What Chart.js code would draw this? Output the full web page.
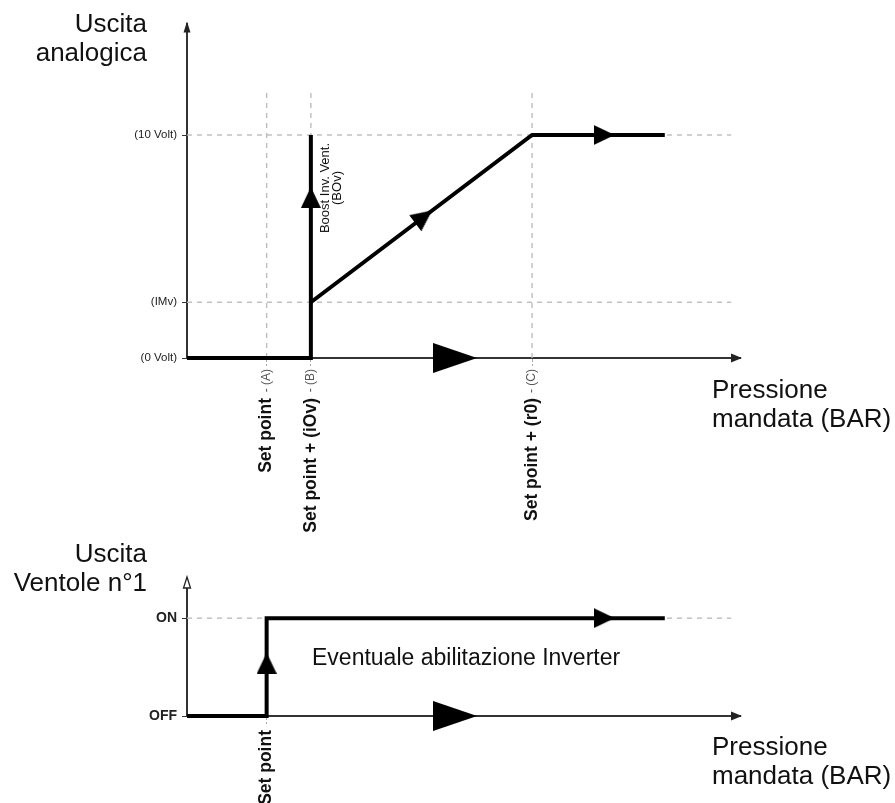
<!DOCTYPE html>
<html>
<head>
<meta charset="utf-8">
<script src="https://cdn.jsdelivr.net/npm/chart.js@4.4.0/dist/chart.umd.min.js"></script>
<style>
  html, body { margin: 0; padding: 0; background: #fff; }
  #wrap { position: relative; width: 895px; height: 803px; overflow: hidden;
          font-family: "Liberation Sans", Arial, sans-serif; color: #111; }
  canvas { position: absolute; left: 0; top: 0; }
  .title { position: absolute; font-size: 26px; line-height: 29px; white-space: nowrap; }
  .right { right: 748px; text-align: right; }
  .note { position: absolute; font-size: 23px; line-height: 23px; white-space: nowrap; }
  .boost { position: absolute; width: 120px; height: 24px; left: 271px; top: 176px;
           font-size: 13px; line-height: 11.5px; text-align: center; transform: rotate(-90deg); }
</style>
</head>
<body>
<div id="wrap">
  <canvas id="analog" width="895" height="803"></canvas>
  <canvas id="fan" width="895" height="803"></canvas>
  <div class="title right" style="top:8.5px">Uscita<br>analogica</div>
  <div class="title" style="left:712px; top:374.5px">Pressione<br>mandata (BAR)</div>
  <div class="title right" style="top:538.5px">Uscita<br>Ventole n°1</div>
  <div class="title" style="left:712px; top:731.5px">Pressione<br>mandata (BAR)</div>
  <div class="boost">Boost Inv. Vent.<br>(BOv)</div>
  <div class="note" style="left:312px; top:645.5px">Eventuale abilitazione Inverter</div>
</div>
<script>
// ── DATA ──────────────────────────────────────────────────
// x in pressure steps, y in volts (top) / on-off state (bottom)
const xTicks      = [1.8, 2.8, 7.8];
const xTickLabels = ['Set point', 'Set point + (iOv)', 'Set point + (r0)'];
const xTickTags   = ['- (A)', '- (B)', '- (C)'];
const yTicks      = [0, 2.5, 10];
const yTickLabels = ['(0 Volt)', '(IMv)', '(10 Volt)'];

const boostX = [0, 2.8, 2.8];
const boostY = [0, 0, 10];
const rampX  = [2.8, 7.8, 10.8];
const rampY  = [2.5, 10, 10];

const arrowX    = [2.8, 5.35, 9.43, 6.06];
const arrowY    = [7.2, 6.33, 10, 0];
const arrowDir  = ['up', 'ramp', 'right', 'right'];
const arrowSize = ['s', 's', 's', 'b'];

const guideTop   = 12;    // top of dashed verticals (volts)
const guideRight = 12.3;  // end of dashed horizontals

const fanTicks      = [0, 1];
const fanTickLabels = ['OFF', 'ON'];
const fanXTicks      = [1.8];
const fanXTickLabels = ['Set point'];
const fanX = [0, 1.8, 1.8, 10.8];
const fanY = [0, 0, 1, 1];
const fanArrowX    = [1.8, 9.43, 6.06];
const fanArrowY    = [0.54, 1, 0];
const fanArrowDir  = ['up', 'right', 'right'];
const fanArrowSize = ['s', 's', 'b'];

// ── HELPERS ───────────────────────────────────────────────
const FONT = '"Liberation Sans", Arial, sans-serif';
Chart.defaults.font.family = FONT;

const pts = (xs, ys) => xs.map((x, i) => ({ x, y: ys[i] }));

function arrowImage(w, h) {
    const c = document.createElement('canvas');
    c.width = w; c.height = h;
    const g = c.getContext('2d');
    g.fillStyle = '#000';
    g.beginPath();
    g.moveTo(w / 2, 0); g.lineTo(w, h); g.lineTo(0, h);
    g.closePath(); g.fill();
    return c;
}
const smallArrow = arrowImage(20, 21);
const bigArrow   = arrowImage(30, 44);

function arrowRotation(ctx, dirs) {
    const d = dirs[ctx.dataIndex];
    if (d === 'up') return 0;
    if (d === 'right') return 90;
    const { x, y } = ctx.chart.scales;
    const dx = x.getPixelForValue(rampX[1]) - x.getPixelForValue(rampX[0]);
    const dy = y.getPixelForValue(rampY[1]) - y.getPixelForValue(rampY[0]);
    return 90 + Math.atan2(dy, dx) * 180 / Math.PI;
}

const thick = (data) => ({
    data, showLine: true, borderColor: '#000', borderWidth: 4, pointRadius: 0,
    borderJoinStyle: 'miter', clip: false, order: 1
});
const dashed = (data) => ({
    data, showLine: true, borderColor: '#bdbdbd', borderWidth: 1.4, borderDash: [5, 5],
    pointRadius: 0, clip: false, order: 5
});
const arrows = (data, dirs, sizes) => ({
    data, showLine: false, pointRadius: 12, clip: false, order: 0,
    pointStyle: ctx => sizes[ctx.dataIndex] === 'b' ? bigArrow : smallArrow,
    rotation: ctx => arrowRotation(ctx, dirs)
});

// axis arrowheads + small grey tick tags
const axisDecor = {
    id: 'axisDecor',
    afterDraw(chart, args, opts) {
        const { ctx, chartArea: a } = chart;
        ctx.save();
        ctx.fillStyle = '#222'; ctx.strokeStyle = '#222'; ctx.lineWidth = 1.3;
        ctx.beginPath();
        ctx.moveTo(a.right + 2, a.bottom);
        ctx.lineTo(a.right - 9, a.bottom - 4.5);
        ctx.lineTo(a.right - 9, a.bottom + 4.5);
        ctx.closePath(); ctx.fill();
        ctx.beginPath();
        ctx.moveTo(a.left, a.top - 2);
        ctx.lineTo(a.left - 3.5, a.top + 9);
        ctx.lineTo(a.left + 3.5, a.top + 9);
        ctx.closePath();
        if (opts.hollowY) { ctx.fillStyle = '#fff'; ctx.fill(); ctx.stroke(); } else ctx.fill();
        (opts.tags || []).forEach((tag, i) => {
            const px = chart.scales.x.getPixelForValue(opts.tagValues[i]);
            ctx.save();
            ctx.translate(px, a.bottom + 11);
            ctx.rotate(-Math.PI / 2);
            ctx.font = '12px ' + FONT;
            ctx.fillStyle = '#555';
            ctx.textAlign = 'right';
            ctx.textBaseline = 'middle';
            ctx.fillText(tag, 0, 0);
            ctx.restore();
        });
        ctx.restore();
    }
};

function baseOptions(cfg) {
    return {
        responsive: false, animation: false, events: [],
        layout: { padding: { top: cfg.top, right: 155, left: 0, bottom: 0 } },
        plugins: { legend: { display: false }, tooltip: { enabled: false }, axisDecor: cfg.decor },
        scales: {
            x: {
                type: 'linear', min: 0, max: 12.5,
                afterBuildTicks: s => { s.ticks = cfg.xTicks.map(v => ({ value: v })); },
                afterFit: s => { s.height = cfg.xHeight; },
                grid: { drawOnChartArea: false, tickLength: 8, color: '#aaa', tickBorderDash: [3, 2] },
                border: { display: true, color: '#333', width: 2 },
                ticks: {
                    autoSkip: false, minRotation: 90, maxRotation: 90, padding: cfg.xPad,
                    color: '#111', font: { size: 17.5, weight: 'bold' },
                    callback: (v, i) => cfg.xLabels[i]
                }
            },
            y: {
                type: 'linear', min: 0, max: cfg.yMax,
                afterBuildTicks: s => { s.ticks = cfg.yTicks.map(v => ({ value: v })); },
                afterFit: s => { s.width = 187; },
                grid: { drawOnChartArea: false, tickLength: 5, color: '#333' },
                border: { display: true, color: '#333', width: 2 },
                ticks: { padding: 5, color: '#222', font: cfg.yFont, callback: (v, i) => cfg.yLabels[i] }
            }
        }
    };
}

// ── ANALOG OUTPUT CHART ───────────────────────────────────
new Chart(document.getElementById('analog'), {
    type: 'scatter',
    data: {
        datasets: [
            arrows(pts(arrowX, arrowY), arrowDir, arrowSize),
            thick(pts(boostX, boostY)),
            thick(pts(rampX, rampY)),
            ...xTicks.map(v => dashed([{ x: v, y: 0 }, { x: v, y: guideTop }])),
            ...yTicks.slice(1).map(v => dashed([{ x: 0, y: v }, { x: guideRight, y: v }]))
        ]
    },
    options: baseOptions({
        top: 23.5, xHeight: 445, xPad: 32, yMax: 15,
        xTicks, xLabels: xTickLabels, yTicks, yLabels: yTickLabels,
        yFont: { size: 11.5 },
        decor: { tags: xTickTags, tagValues: xTicks }
    }),
    plugins: [axisDecor]
});

// ── FAN OUTPUT CHART ──────────────────────────────────────
new Chart(document.getElementById('fan'), {
    type: 'scatter',
    data: {
        datasets: [
            arrows(pts(fanArrowX, fanArrowY), fanArrowDir, fanArrowSize),
            thick(pts(fanX, fanY)),
            dashed([{ x: 0, y: 1 }, { x: guideRight, y: 1 }])
        ]
    },
    options: baseOptions({
        top: 579, xHeight: 87, xPad: 6, yMax: 1.4,
        xTicks: fanXTicks, xLabels: fanXTickLabels, yTicks: fanTicks, yLabels: fanTickLabels,
        yFont: { size: 14, weight: 'bold' },
        decor: { hollowY: true }
    }),
    plugins: [axisDecor]
});
</script>
</body>
</html>
